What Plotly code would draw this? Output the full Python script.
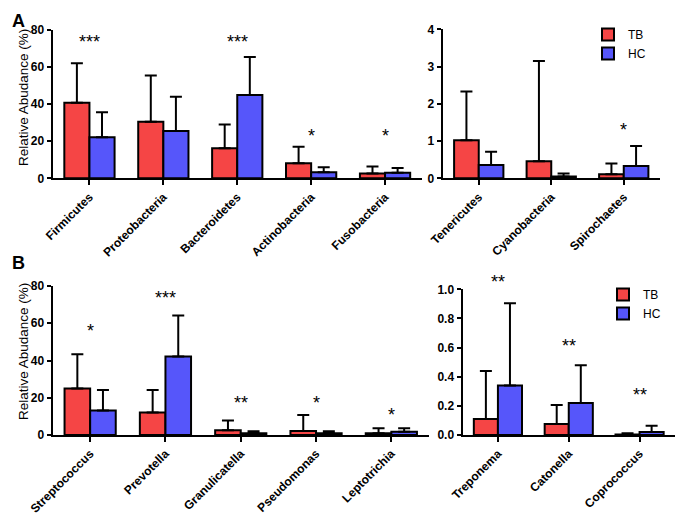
import plotly.graph_objects as go

# The page body has an 8px margin, so the figure is drawn 8px smaller and
# all reference pixel positions are converted with that offset.
OFF = 8
W, H = 683 - OFF, 516 - OFF

# ---------------- data ----------------
cat_a1 = ["Firmicutes", "Proteobacteria", "Bacteroidetes", "Actinobacteria", "Fusobacteria"]
tb_a1 = [40.8, 30.5, 16.2, 8.1, 2.6]
tb_a1_sd = [21.2, 25.0, 12.8, 8.9, 3.8]
hc_a1 = [22.2, 25.5, 45.0, 3.2, 3.0]
hc_a1_sd = [13.4, 18.5, 20.5, 2.8, 2.6]
sig_a1 = ["***", "", "***", "*", "*"]
sig_a1_y = [75.7, 0, 75.7, 25, 25]

cat_a2 = ["Tenericutes", "Cyanobacteria", "Spirochaetes"]
tb_a2 = [1.02, 0.46, 0.11]
tb_a2_sd = [1.31, 2.69, 0.29]
hc_a2 = [0.36, 0.05, 0.33]
hc_a2_sd = [0.35, 0.08, 0.54]
sig_a2 = ["", "", "*"]
sig_a2_y = [0, 0, 1.41]

cat_b1 = ["Streptococcus", "Prevotella", "Granulicatella", "Pseudomonas", "Leptotrichia"]
tb_b1 = [25.0, 12.1, 2.5, 2.1, 1.0]
tb_b1_sd = [18.3, 12.1, 5.3, 8.6, 2.6]
hc_b1 = [13.2, 42.2, 1.0, 1.0, 1.8]
hc_b1_sd = [11.0, 22.0, 1.0, 1.0, 1.8]
sig_b1 = ["*", "***", "**", "*", "*"]
sig_b1_y = [58.1, 75.7, 19.3, 19.3, 12.9]

cat_b2 = ["Treponema", "Catonella", "Coprococcus"]
tb_b2 = [0.11, 0.076, 0.004]
tb_b2_sd = [0.33, 0.13, 0.008]
hc_b2 = [0.34, 0.22, 0.02]
hc_b2_sd = [0.565, 0.258, 0.044]
sig_b2 = ["**", "**", "**"]
sig_b2_y = [1.08, 0.64, 0.30]

y_title = "Relative Abudance (%)"
colors = {"TB": "#F54545", "HC": "#5656FA"}
FONT = "Liberation Sans, Arial, sans-serif"


def px(x):
    return (x - OFF) / W


def py(y):
    return 1 - (y - OFF) / H


fig = go.Figure()

panels = [
    (cat_a1, tb_a1, tb_a1_sd, hc_a1, hc_a1_sd, sig_a1, sig_a1_y, "x", "y", "legend", False),
    (cat_a2, tb_a2, tb_a2_sd, hc_a2, hc_a2_sd, sig_a2, sig_a2_y, "x2", "y2", "legend", True),
    (cat_b1, tb_b1, tb_b1_sd, hc_b1, hc_b1_sd, sig_b1, sig_b1_y, "x3", "y3", "legend2", False),
    (cat_b2, tb_b2, tb_b2_sd, hc_b2, hc_b2_sd, sig_b2, sig_b2_y, "x4", "y4", "legend2", True),
]

annotations = []
for cats, tb, tbsd, hc, hcsd, sig, sigy, xa, ya, lg, sl in panels:
    for name, vals, sds in (("TB", tb, tbsd), ("HC", hc, hcsd)):
        fig.add_trace(go.Bar(
            x=cats, y=vals, name=name, xaxis=xa, yaxis=ya, legend=lg,
            showlegend=sl, offsetgroup=name,
            marker=dict(color=colors[name], line=dict(color="black", width=2)),
            error_y=dict(type="data", symmetric=False, array=sds,
                         arrayminus=[0] * len(sds), color="black",
                         thickness=2, width=6),
        ))
    for c, s, yv in zip(cats, sig, sigy):
        if s:
            yref = "y4 domain" if ya == "y4" else ya
            annotations.append(dict(
                x=c, y=yv, xref=xa, yref=yref, text=s, showarrow=False,
                yanchor="middle", yshift=-4,
                font=dict(size=18, color="black", family=FONT)))

# panel letters
annotations.append(dict(x=px(9.5), y=py(8.5), xref="paper", yref="paper", text="<b>A</b>",
                        showarrow=False, xanchor="left", yanchor="top",
                        font=dict(size=18, color="black", family=FONT)))
annotations.append(dict(x=px(9.5), y=py(262.5), xref="paper", yref="paper", text="<b>B</b>",
                        showarrow=False, xanchor="left", yanchor="middle",
                        font=dict(size=18, color="black", family=FONT)))

# y-axis titles (placed like the reference)
for yc in (98, 352):
    annotations.append(dict(x=px(23), y=py(yc), xref="paper", yref="paper", text=y_title,
                            textangle=-90, showarrow=False, xanchor="center",
                            yanchor="middle",
                            font=dict(size=13.5, color="black", family=FONT)))

tickfont = dict(size=12, color="black", family=FONT, weight="bold")
xtickfont = dict(size=12, color="black", family=FONT, weight="bold")

common_x = dict(showline=True, linecolor="black", linewidth=2, ticks="outside",
                ticklen=5, tickwidth=2, tickcolor="black", tickangle=-45,
                tickfont=xtickfont, showgrid=False, zeroline=False, fixedrange=True,
                automargin=False)
common_y = dict(showline=True, linecolor="black", linewidth=2, ticks="outside",
                ticklen=4, tickwidth=2, tickcolor="black", tickfont=tickfont,
                showgrid=False, zeroline=False, fixedrange=True, automargin=False)

fig.update_layout(
    width=W, height=H,
    margin=dict(l=0, r=0, t=0, b=0),
    paper_bgcolor="white", plot_bgcolor="white",
    barmode="group", bargap=0.32, bargroupgap=0,
    font=dict(family=FONT, color="black"),
    xaxis=dict(domain=[px(52.5), px(422)], anchor="y", **common_x),
    yaxis=dict(domain=[py(178.3), py(30)], anchor="x", range=[0, 80], dtick=20, **common_y),
    xaxis2=dict(domain=[px(442.5), px(660)], anchor="y2", **common_x),
    yaxis2=dict(domain=[py(178.3), py(29.3)], anchor="x2", range=[0, 4], dtick=1, **common_y),
    xaxis3=dict(domain=[px(52.5), px(429)], anchor="y3", **common_x),
    yaxis3=dict(domain=[py(435), py(286)], anchor="x3", range=[0, 80], dtick=20, **common_y),
    xaxis4=dict(domain=[px(462.5), px(675)], anchor="y4", **common_x),
    yaxis4=dict(domain=[py(435), py(289.3)], anchor="x4", range=[0, 1], dtick=0.2,
                tickformat=".1f", **common_y),
    legend=dict(x=px(588), y=py(20), xanchor="left", yanchor="top",
                bgcolor="rgba(0,0,0,0)", font=dict(size=12, color="black", family=FONT),
                traceorder="normal", tracegroupgap=0, itemwidth=30),
    legend2=dict(x=px(603), y=py(280), xanchor="left", yanchor="top",
                 bgcolor="rgba(0,0,0,0)", font=dict(size=12, color="black", family=FONT),
                 traceorder="normal", tracegroupgap=0, itemwidth=30),
    annotations=annotations,
    showlegend=True,
)

fig.write_html("out.html")
